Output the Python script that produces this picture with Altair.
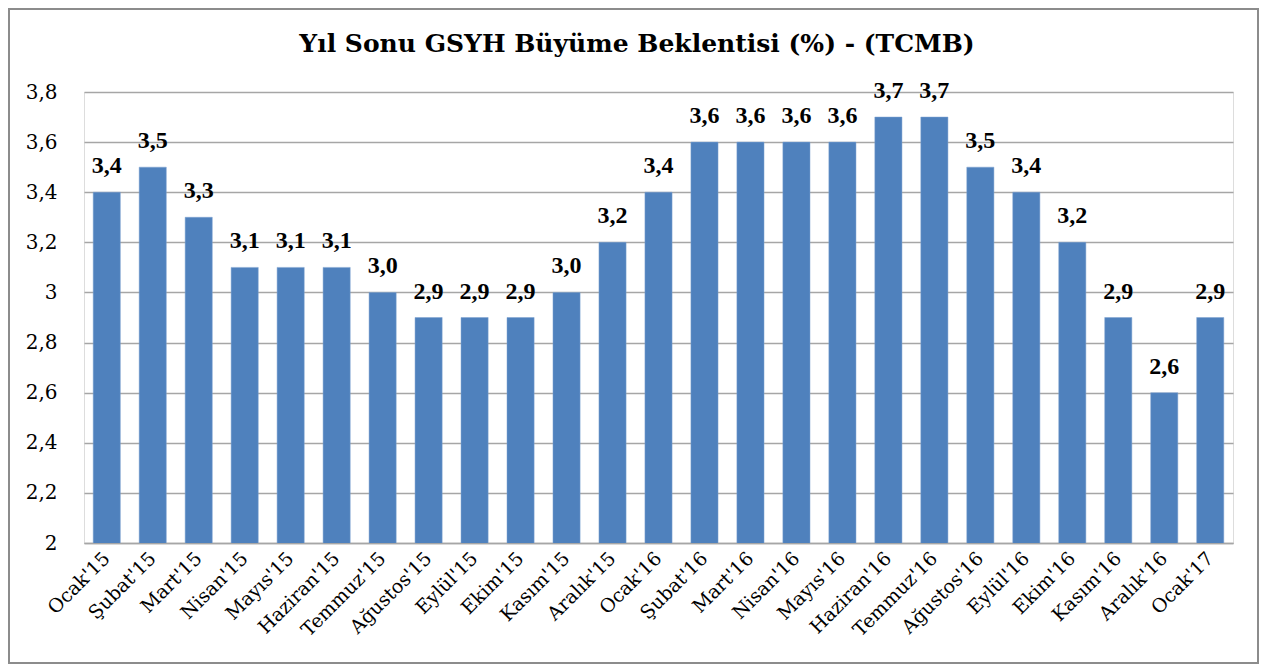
import altair as alt
import pandas as pd

months = ["Ocak'15", "Şubat'15", "Mart'15", "Nisan'15", "Mayıs'15", "Haziran'15",
          "Temmuz'15", "Ağustos'15", "Eylül'15", "Ekim'15", "Kasım'15", "Aralık'15",
          "Ocak'16", "Şubat'16", "Mart'16", "Nisan'16", "Mayıs'16", "Haziran'16",
          "Temmuz'16", "Ağustos'16", "Eylül'16", "Ekim'16", "Kasım'16", "Aralık'16",
          "Ocak'17"]
values = [3.4, 3.5, 3.3, 3.1, 3.1, 3.1, 3.0, 2.9, 2.9, 2.9, 3.0, 3.2,
          3.4, 3.6, 3.6, 3.6, 3.6, 3.7, 3.7, 3.5, 3.4, 3.2, 2.9, 2.6, 2.9]
y_ticks = [2.0, 2.2, 2.4, 2.6, 2.8, 3.0, 3.2, 3.4, 3.6, 3.8]
title_text = "Yıl Sonu GSYH Büyüme Beklentisi (%) - (TCMB)"

df = pd.DataFrame({"ay": months, "deger": values})

FONT = "DejaVu Serif"
FONT2 = "Liberation Serif"
W, H = 1149, 451
PAD = {"left": 76, "top": 84, "right": 26, "bottom": 121}

x_enc = alt.X("ay:N", sort=months, title=None,
              scale=alt.Scale(paddingInner=0.41, paddingOuter=0.2),
              axis=alt.Axis(labelAngle=-45, labelAlign="right", labelBaseline="middle",
                            labelFontSize=19, labelFont=FONT, labelColor="#000000",
                            labelPadding=12, ticks=False, domainColor="#a6a6a6",
                            domainWidth=1.5, grid=False))
y_scale = alt.Scale(domain=[2, 3.8], nice=False, zero=False)

bars = alt.Chart(df).mark_bar(color="#4f81bd", stroke="#7ea3d0", strokeWidth=0.5,
                              clip=True).encode(
    x=x_enc,
    y=alt.Y("deger:Q", scale=y_scale, title=None,
            axis=alt.Axis(values=y_ticks, labelFontSize=20, labelFont=FONT,
                          labelColor="#000000", labelPadding=27, ticks=False, domain=False,
                          gridColor="#a6a6a6", gridWidth=1.5,
                          labelExpr="replace(format(datum.value, '~g'), '.', ',')")),
)

labels = alt.Chart(df).transform_calculate(
    lbl="replace(format(datum.deger, '.1f'), '.', ',')"
).mark_text(font=FONT2, fontSize=24, fontWeight="bold", color="#000000",
            baseline="alphabetic", dy=-19).encode(
    x=alt.X("ay:N", sort=months),
    y=alt.Y("deger:Q", scale=y_scale),
    text="lbl:N",
)

title = alt.Chart(pd.DataFrame({"t": [title_text]})).mark_text(
    font=FONT, fontSize=25, fontWeight="bold", color="#000000",
    align="center", baseline="alphabetic"
).encode(x=alt.value(553), y=alt.value(-40), text="t:N")

border = alt.Chart(pd.DataFrame({"a": [0]})).mark_rect(
    filled=False, stroke="#8c8c8c", strokeWidth=2
).encode(
    x=alt.value(-75), x2=alt.value(W + PAD["right"] - 1),
    y=alt.value(-83), y2=alt.value(H + PAD["bottom"] - 1),
)

chart = alt.layer(bars, labels, title, border).properties(
    width=W, height=H,
    autosize=alt.AutoSizeParams(type="none"),
    padding=PAD,
).configure_view(stroke=None).configure(background="white")

chart.save("out.html", embed_options={"renderer": "svg", "actions": False})
